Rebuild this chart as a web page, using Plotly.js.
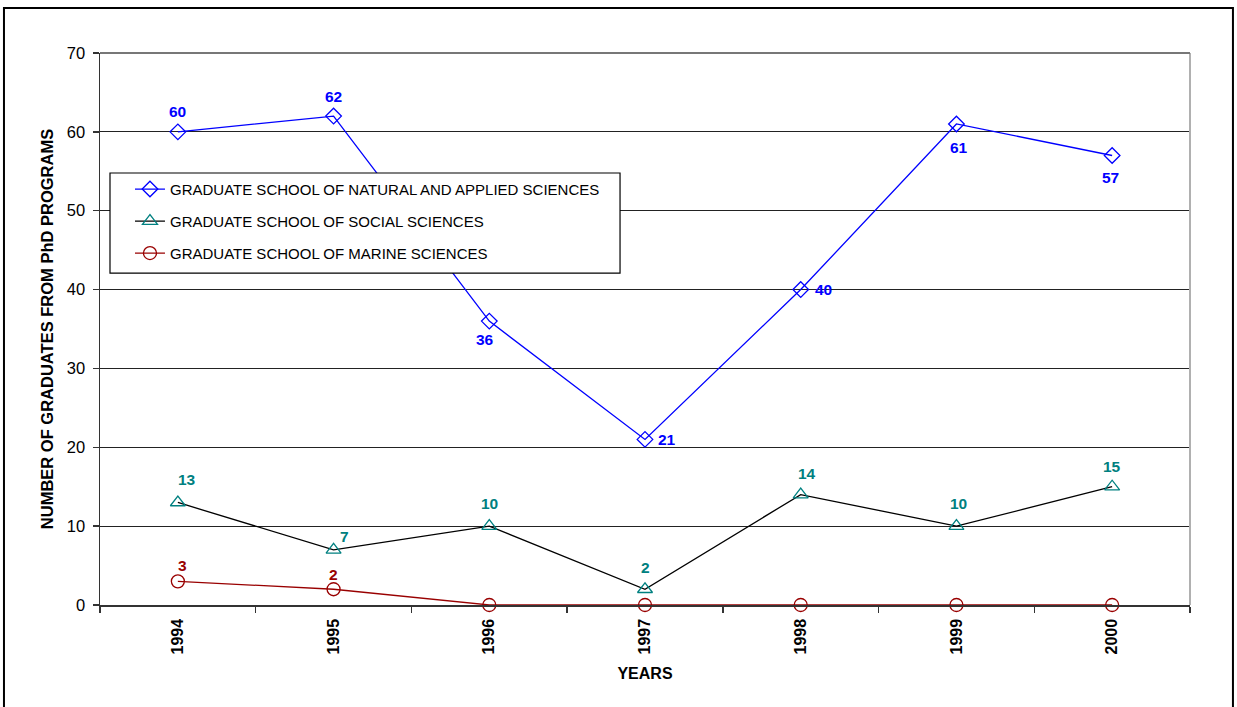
<!DOCTYPE html>
<html>
<head>
<meta charset="utf-8">
<script src="https://cdn.plot.ly/plotly-3.0.1.min.js"></script>
<style>
  html, body { margin: 0; padding: 0; background: #fff; }
  #chart { width: 1237px; height: 707px; }
</style>
</head>
<body>
<div id="chart"></div>
<script>
// ---- data ----
const years = ['1994', '1995', '1996', '1997', '1998', '1999', '2000'];
const natural = [60, 62, 36, 21, 40, 61, 57];
const social = [13, 7, 10, 2, 14, 10, 15];
const marine = [3, 2, 0, 0, 0, 0, 0];
const seriesNames = [
  'GRADUATE SCHOOL OF NATURAL AND APPLIED SCIENCES',
  'GRADUATE SCHOOL OF SOCIAL SCIENCES',
  'GRADUATE SCHOOL OF MARINE SCIENCES'
];
const yTitle = 'NUMBER OF GRADUATES FROM PhD PROGRAMS';
const xTitle = 'YEARS';

// ---- label placement (style, pixel offsets) ----
const naturalOff = [[0, 20], [0, 20], [-4, -18], [22, 0], [23, 0], [3, -24], [-2, -22]];
const socialOff = [[9, 23], [11, 13], [0, 23], [0, 22], [6, 21], [2, 23], [0, 20]];
const marineOff = [[5, 16], [0, 15], null, null, null, null, null];

const FONT = 'Liberation Sans, Arial, sans-serif';
const cBlue = '#0000FF', cTeal = '#008080', cRed = '#990000';

const traces = [
  {
    x: years, y: natural, name: seriesNames[0], type: 'scatter', mode: 'lines+markers',
    line: { color: cBlue, width: 1.3 },
    marker: { symbol: 'diamond-open', size: 12, color: cBlue, line: { width: 1.3 } },
    cliponaxis: false, legendgroup: 'a'
  },
  {
    x: years, y: social, name: seriesNames[1], type: 'scatter', mode: 'lines+markers',
    line: { color: '#000000', width: 1.3 },
    marker: { symbol: 'triangle-up-open', size: 13, color: cTeal, line: { width: 1.3 } },
    cliponaxis: false, legendgroup: 'b'
  },
  {
    x: years, y: marine, name: seriesNames[2], type: 'scatter', mode: 'lines+markers',
    line: { color: cRed, width: 1.3 },
    marker: { symbol: 'circle-open', size: 13, color: cRed, line: { width: 1.3 } },
    cliponaxis: false, legendgroup: 'c'
  }
];

const annotations = [];
function addLabels(vals, offs, color) {
  vals.forEach((v, i) => {
    const o = offs[i];
    if (!o) return;
    annotations.push({
      x: i, y: v, xref: 'x', yref: 'y', text: String(v), showarrow: false,
      xshift: o[0], yshift: o[1],
      font: { family: FONT, size: 15.5, color: color, weight: 'bold' }
    });
  });
}
addLabels(natural, naturalOff, cBlue);
addLabels(social, socialOff, cTeal);
addLabels(marine, marineOff, cRed);

const layout = {
  width: 1237, height: 707,
  margin: { l: 100, r: 47, t: 53, b: 102 },
  paper_bgcolor: '#ffffff', plot_bgcolor: '#ffffff',
  font: { family: FONT, color: '#000' },
  showlegend: true,
  legend: {
    x: 0.0275, y: 0.783, xanchor: 'left', yanchor: 'top',
    bgcolor: 'rgba(0,0,0,0)', borderwidth: 0,
    font: { family: FONT, size: 15, color: '#000' },
    traceorder: 'grouped', tracegroupgap: 9.5
  },
  xaxis: {
    type: 'category', tickson: 'boundaries', range: [-0.5, years.length - 0.5],
    showgrid: false, showline: true, linecolor: '#333', linewidth: 1.5,
    ticks: 'outside', ticklen: 6, tickcolor: '#333', tickwidth: 1.5,
    tickangle: -90, ticklabelstandoff: 6,
    tickfont: { family: FONT, size: 16, color: '#000', weight: 'bold' },
    title: { text: xTitle, font: { family: FONT, size: 16, color: '#000', weight: 'bold' }, standoff: 14 },
    zeroline: false, fixedrange: true
  },
  yaxis: {
    range: [0, 70], dtick: 10, tick0: 0,
    showgrid: true, gridcolor: '#222', gridwidth: 1.2,
    showline: true, linecolor: '#333', linewidth: 1.5,
    ticks: 'outside', ticklen: 6, tickcolor: '#333', tickwidth: 1.5,
    tickfont: { family: FONT, size: 16.5, color: '#000' },
    ticklabelstandoff: 4,
    title: { text: yTitle, font: { family: FONT, size: 16.5, color: '#000', weight: 'bold' }, standoff: 9 },
    zeroline: false, fixedrange: true
  },
  annotations: annotations,
  shapes: [
    { type: 'line', xref: 'paper', yref: 'paper', x0: 1, x1: 1, y0: 0, y1: 1,
      line: { color: '#b0b0b0', width: 2 } },
    { type: 'line', xref: 'paper', yref: 'paper', x0: 0, x1: 1, y0: 1, y1: 1,
      line: { color: '#777', width: 2 } },
    { type: 'rect', xref: 'paper', yref: 'paper',
      x0: 0.00917, x1: 0.4771, y0: 0.6014, y1: 0.7826,
      line: { color: '#000', width: 1.2 }, fillcolor: '#ffffff', layer: 'above' },
    { type: 'rect', xref: 'paper', yref: 'paper',
      x0: -0.0881, x1: 1.0394, y0: -0.21, y1: 1.0815,
      line: { color: '#000', width: 2 }, fillcolor: 'rgba(0,0,0,0)', layer: 'above' }
  ]
};

Plotly.newPlot('chart', traces, layout, { displayModeBar: false, staticPlot: true });
</script>
</body>
</html>
